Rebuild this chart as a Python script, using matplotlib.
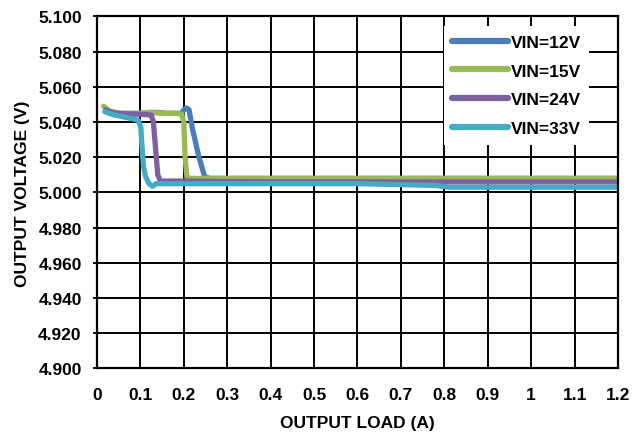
import numpy as np
import matplotlib
matplotlib.use("Agg")
import matplotlib.pyplot as plt

# Output voltage vs. load current for four input voltages
load_12v = [0.02, 0.03, 0.05, 0.08, 0.10, 0.12, 0.14, 0.16, 0.18, 0.195, 0.20, 0.206, 0.212,
            0.22, 0.235, 0.248, 0.26, 0.40, 0.60, 0.80, 1.00, 1.20]
vout_12v = [5.046, 5.045, 5.045, 5.045, 5.045, 5.0455, 5.0455, 5.045, 5.045, 5.045, 5.047, 5.048, 5.047,
            5.036, 5.020, 5.009, 5.008, 5.008, 5.008, 5.008, 5.008, 5.008]

load_15v = [0.015, 0.02, 0.03, 0.05, 0.08, 0.10, 0.12, 0.15, 0.18, 0.195, 0.200, 0.203, 0.207,
            0.215, 0.40, 0.60, 0.80, 1.00, 1.20]
vout_15v = [5.049, 5.048, 5.046, 5.045, 5.0445, 5.045, 5.0455, 5.045, 5.045, 5.0445, 5.040, 5.020, 5.009,
            5.008, 5.008, 5.008, 5.008, 5.008, 5.008]

load_24v = [0.02, 0.03, 0.05, 0.08, 0.10, 0.125, 0.130, 0.135, 0.140, 0.146, 0.20, 0.40,
            0.60, 0.80, 1.00, 1.20]
vout_24v = [5.047, 5.046, 5.045, 5.0445, 5.0445, 5.044, 5.040, 5.025, 5.010, 5.0065, 5.0065, 5.006,
            5.006, 5.006, 5.006, 5.006]

load_33v = [0.018, 0.04, 0.06, 0.08, 0.095, 0.101, 0.104, 0.107, 0.112, 0.120, 0.128, 0.136,
            0.20, 0.40, 0.60, 0.78, 0.81, 1.00, 1.20]
vout_33v = [5.046, 5.044, 5.043, 5.042, 5.041, 5.037, 5.025, 5.015, 5.009, 5.005, 5.0035, 5.005,
            5.005, 5.005, 5.005, 5.004, 5.003, 5.003, 5.003]

series = [("VIN=12V", load_12v, vout_12v, "#4a7ebb"),
          ("VIN=15V", load_15v, vout_15v, "#98b954"),
          ("VIN=24V", load_24v, vout_24v, "#7d60a0"),
          ("VIN=33V", load_33v, vout_33v, "#46aac5")]

x_ticks = np.round(np.arange(0, 1.21, 0.1), 1)
x_labels = ["0", "0.1", "0.2", "0.3", "0.4", "0.5", "0.6", "0.7", "0.8", "0.9", "1", "1.1", "1.2"]
y_ticks = np.round(np.arange(4.90, 5.101, 0.02), 3)

plt.rcParams["font.family"] = ["Liberation Sans", "DejaVu Sans"]
plt.rcParams["font.weight"] = "bold"
fs = 12.5

fig = plt.figure(figsize=(6.33, 4.35), dpi=100)
ax = fig.add_axes([0.1532, 0.1506, 0.8231, 0.8092])

for label, x, y, color in series:
    ax.plot(x, y, color=color, lw=3.8, solid_capstyle="round", solid_joinstyle="round", label=label)

ax.set_xlim(0, 1.2)
ax.set_ylim(4.9, 5.1)
ax.set_xticks(x_ticks)
ax.set_xticklabels(x_labels)
ax.set_yticks(y_ticks)
ax.set_yticklabels(["%.3f" % v for v in y_ticks])
ax.grid(True, color="black", lw=1.4)
ax.set_axisbelow(True)
for sp in ax.spines.values():
    sp.set_linewidth(1.6)
ax.tick_params(axis="y", length=3, width=1.3, pad=8, labelsize=fs)
ax.tick_params(axis="x", length=0, pad=13, labelsize=fs)

ax.set_xlabel("OUTPUT LOAD (A)", fontsize=fs, fontweight="bold", labelpad=10)
ax.set_ylabel("OUTPUT VOLTAGE (V)", fontsize=fs, fontweight="bold", labelpad=6)

# white legend box without border, sitting over the grid
leg = ax.legend(loc="upper right", bbox_to_anchor=(0.945, 0.973), borderaxespad=0,
                fontsize=fs, handlelength=3.2, handletextpad=0.15, labelspacing=0.78,
                borderpad=0.5, fancybox=False, framealpha=1)
leg.get_frame().set_edgecolor("none")
for h in leg.get_lines():
    h.set_linewidth(4.5)

fig.savefig("out.png", dpi=100)
